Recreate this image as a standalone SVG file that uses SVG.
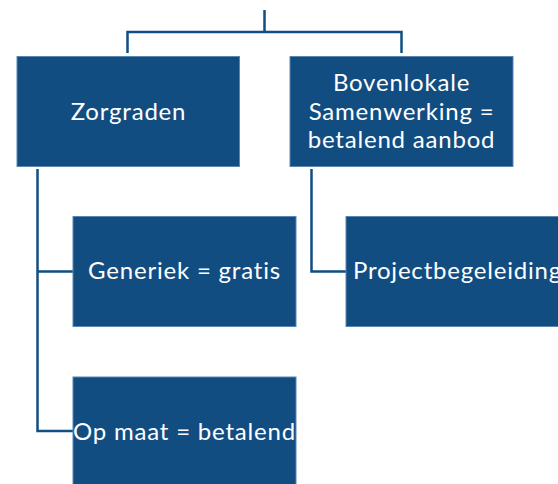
<svg xmlns="http://www.w3.org/2000/svg" width="558" height="484" viewBox="0 0 558 484">
<style>
.box{fill:#124d82;stroke:#5a86b0;stroke-width:1}
.t{font-family:"Lato","Noto Sans",sans-serif;font-size:24px;letter-spacing:0.8px;fill:#ffffff;text-anchor:middle}
.c{fill:none;stroke:#124d82;stroke-width:2.5}
</style>
<rect width="558" height="484" fill="#ffffff"/>
<g id="connectors">
<path class="c" d="M264.5 10 V32 M127.5 53 V32 H401.5 V53"/>
<path class="c" d="M37.5 169 V431 H73 M37.5 271.5 H73"/>
<path class="c" d="M311.5 169 V271.5 H346"/>
</g>
<g id="zorgraden">
<rect class="box" x="17" y="56.5" width="222.5" height="110"/>
<text class="t" x="128.5" y="120">Zorgraden</text>
</g>
<g id="bovenlokale">
<rect class="box" x="290" y="56.5" width="223" height="110"/>
<text class="t" x="401.5" y="91">Bovenlokale</text>
<text class="t" x="401.5" y="120">Samenwerking =</text>
<text class="t" x="401.5" y="148">betalend aanbod</text>
</g>
<g id="generiek">
<rect class="box" x="73" y="216.5" width="223" height="110"/>
<text class="t" x="184.5" y="279">Generiek = gratis</text>
</g>
<g id="projectbegeleiding">
<rect class="box" x="346" y="216.5" width="223" height="110"/>
<text class="t" x="457.5" y="279">Projectbegeleiding</text>
</g>
<g id="opmaat">
<rect class="box" x="73" y="377" width="223" height="110"/>
<text class="t" x="184.5" y="440">Op maat = betalend</text>
</g>
</svg>
